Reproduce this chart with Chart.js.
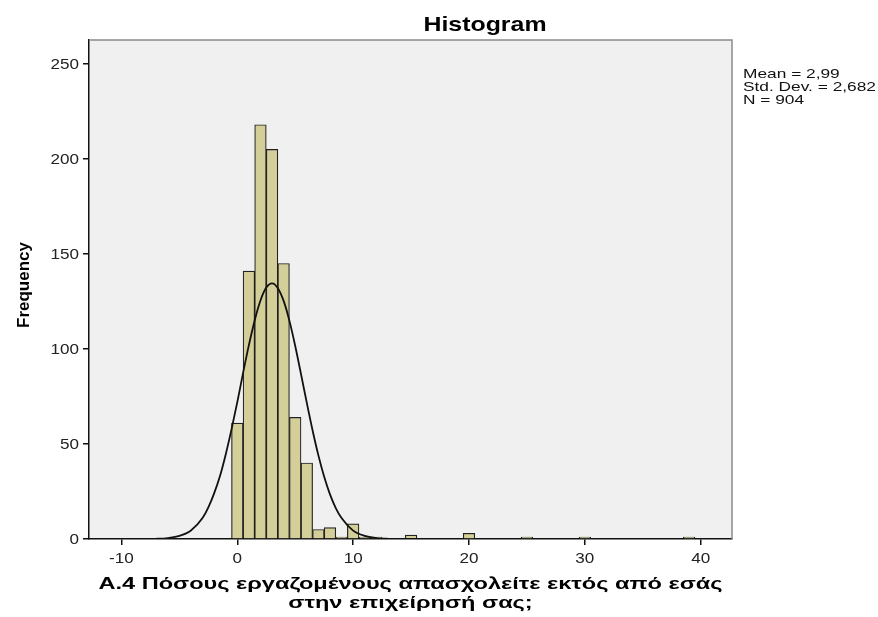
<!DOCTYPE html>
<html>
<head>
<meta charset="utf-8">
<script src="https://cdn.jsdelivr.net/npm/chart.js@4.4.1/dist/chart.umd.min.js"></script>
<style>
  html, body { margin: 0; padding: 0; background: #fff; }
</style>
</head>
<body>
<canvas id="histChart" width="878" height="617"></canvas>
<script>
// values (bin width 1, centred on whole numbers)
var binCenters = [0, 1, 2, 3, 4, 5, 6, 7, 8, 9, 10, 11, 12, 15, 20, 25, 30, 39];
var binCounts  = [61, 141, 218, 205, 145, 64, 40, 5, 6, 1, 8, 1, 1, 2, 3, 1, 1, 1];

// fitted normal curve
var curveX = [-12, -10, -8, -7, -6, -5, -4, -3, -2.5, -2, -1.5, -1, -0.5, 0, 0.5, 1, 1.5, 2, 2.5, 3,
              3.5, 4, 4.5, 5, 5.5, 6, 6.5, 7, 7.5, 8, 8.5, 9, 10, 11, 12, 13, 14, 16];
var curveY = [0, 0, 0, 0.1, 0.5, 1.6, 4.5, 11, 16.6, 24, 33, 44.5, 57.7, 72, 87.4, 102, 115, 125.5, 132.3, 134.5,
              132, 125.3, 114.8, 101.6, 86.8, 71.6, 57.1, 44, 32.7, 23.5, 16.3, 11, 4.4, 1.6, 0.5, 0.1, 0, 0];

var xTicks = [-10, 0, 10, 20, 30, 40];
var yTicks = [0, 50, 100, 150, 200, 250];

var chartTitle = 'Histogram';
var yTitle = 'Frequency';
var xTitleLines = ['Α.4 Πόσους εργαζομένους απασχολείτε εκτός από εσάς', 'στην επιχείρησή σας;'];
var statLines = ['Mean = 2,99', 'Std. Dev. = 2,682', 'N = 904'];

var FONT = '"Liberation Sans", Arial, sans-serif';

function toPoints(xs, ys) {
    var pts = [];
    for (var i = 0; i < xs.length; i++) {
        pts.push({ x: xs[i], y: ys[i] });
    }
    return pts;
}

// draws text squeezed/stretched horizontally by sx
function drawText(ctx, text, x, y, font, sx, align, color) {
    ctx.save();
    ctx.font = font;
    ctx.fillStyle = color || '#000';
    ctx.textAlign = align || 'left';
    ctx.textBaseline = 'alphabetic';
    ctx.translate(x, y);
    ctx.scale(sx, 1);
    ctx.fillText(text, 0, 0);
    ctx.restore();
}

function fitScale(ctx, text, font, width) {
    ctx.save();
    ctx.font = font;
    var w = ctx.measureText(text).width;
    ctx.restore();
    return width / w;
}

var spssLook = {
    id: 'spssLook',
    beforeDraw: function (chart) {
        var ctx = chart.ctx, a = chart.chartArea;
        ctx.save();
        ctx.fillStyle = '#fff';
        ctx.fillRect(0, 0, chart.width, chart.height);
        ctx.fillStyle = '#f0f0f0';
        ctx.fillRect(a.left, a.top, a.right - a.left, a.bottom - a.top);
        ctx.restore();
    },
    afterDraw: function (chart) {
        var ctx = chart.ctx, a = chart.chartArea;
        var xs = chart.scales.x, ys = chart.scales.y;

        // top and right frame
        ctx.save();
        ctx.strokeStyle = '#8a8a8a';
        ctx.lineWidth = 1.5;
        ctx.beginPath();
        ctx.moveTo(a.left, a.top);
        ctx.lineTo(a.right, a.top);
        ctx.lineTo(a.right, a.bottom);
        ctx.stroke();
        ctx.restore();

        // tick labels
        var tickFont = '14px ' + FONT;
        yTicks.forEach(function (v) {
            drawText(ctx, String(v), 79, ys.getPixelForValue(v) + 5, tickFont, 1.22, 'right', '#222');
        });
        xTicks.forEach(function (v) {
            drawText(ctx, String(v), xs.getPixelForValue(v), 563, tickFont, 1.22, 'center', '#222');
        });

        // title
        var tFont = 'bold 21px ' + FONT;
        drawText(ctx, chartTitle, 485, 31, tFont, fitScale(ctx, chartTitle, tFont, 123), 'center');

        // stats box
        var sFont = '13px ' + FONT;
        var ssx = fitScale(ctx, statLines[1], sFont, 133);
        statLines.forEach(function (s, i) {
            drawText(ctx, s, 743, 78 + i * 13, sFont, ssx, 'left', '#111');
        });

        // x title
        var xFont = 'bold 16px ' + FONT;
        var xsx = fitScale(ctx, xTitleLines[0], xFont, 624);
        var cx = (a.left + a.right) / 2;
        drawText(ctx, xTitleLines[0], cx, 589, xFont, xsx, 'center');
        drawText(ctx, xTitleLines[1], cx, 608, xFont, xsx, 'center');

        // y title
        var yFont = 'bold 17px ' + FONT;
        ctx.save();
        ctx.translate(29, 285);
        ctx.rotate(-Math.PI / 2);
        drawText(ctx, yTitle, 0, 0, yFont, fitScale(ctx, yTitle, yFont, 86), 'center');
        ctx.restore();
    }
};

var axisGrid = { drawOnChartArea: false, drawTicks: true, tickLength: 6, color: '#111', lineWidth: 1.5, offset: false };
var axisBorder = { display: true, color: '#111', width: 1.5 };

var ctx = document.getElementById('histChart');
var histChart = new Chart(ctx, {
    type: 'bar',
    data: {
        datasets: [
            {
                type: 'line',
                data: toPoints(curveX, curveY),
                borderColor: '#111',
                borderWidth: 1.8,
                pointRadius: 0,
                fill: false,
                cubicInterpolationMode: 'monotone',
                order: 0
            },
            {
                type: 'bar',
                data: toPoints(binCenters, binCounts),
                backgroundColor: '#d4cf98',
                borderColor: '#222',
                borderWidth: 1.2,
                barPercentage: 1,
                categoryPercentage: 1,
                order: 1
            }
        ]
    },
    options: {
        responsive: false,
        animation: false,
        layout: { padding: { left: 0, top: 40, right: 146, bottom: 0 } },
        plugins: {
            legend: { display: false },
            tooltip: { enabled: false },
            title: { display: false }
        },
        scales: {
            x: {
                type: 'linear',
                min: -12.8,
                max: 42.7,
                offset: false,
                afterBuildTicks: function (s) { s.ticks = xTicks.map(function (v) { return { value: v }; }); },
                afterFit: function (s) { s.height = 78; },
                grid: axisGrid,
                border: axisBorder,
                ticks: { display: false }
            },
            y: {
                type: 'linear',
                min: 0,
                max: 262.6,
                afterBuildTicks: function (s) { s.ticks = yTicks.map(function (v) { return { value: v }; }); },
                afterFit: function (s) { s.width = 89; },
                grid: axisGrid,
                border: axisBorder,
                ticks: { display: false }
            }
        }
    },
    plugins: [spssLook]
});
</script>
</body>
</html>
